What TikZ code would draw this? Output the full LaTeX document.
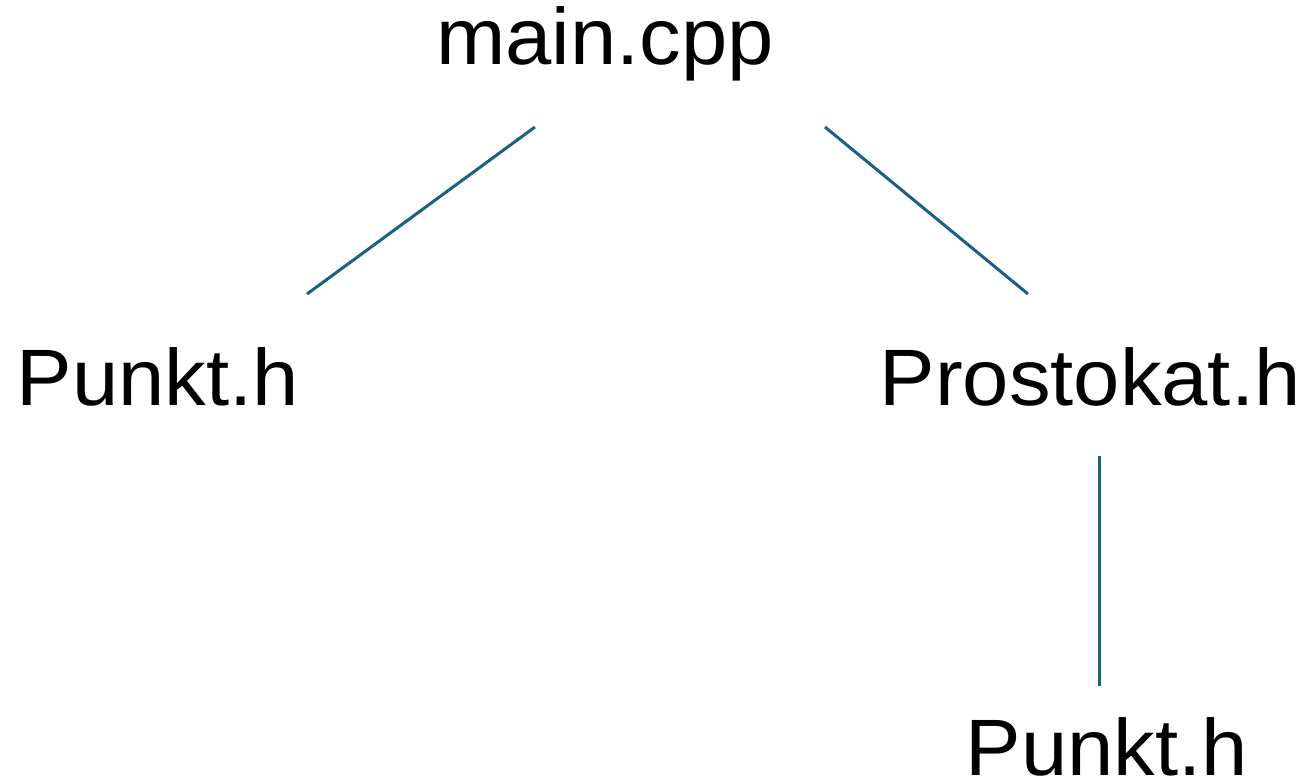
\documentclass[tikz,border=0pt]{standalone}
\usepackage{fontspec}
\setmainfont{Liberation Sans}
\definecolor{edgeblue}{HTML}{1A6182}
\begin{document}
\begin{tikzpicture}[x=1pt,y=-1pt,
  lbl/.style={font=\fontsize{80}{90}\selectfont, anchor=base, inner sep=0pt, xscale=1.04},
  edge/.style={draw=edgeblue, line width=3pt}]
\useasboundingbox (0,0) rectangle (1304,781);
\node[lbl] (main) at (605,65) {main.cpp};
\node[lbl] (p1) at (158,405) {Punkt.h};
\node[lbl] (pr) at (1090,405) {Prostokat.h};
\node[lbl] (p2) at (1107,775) {Punkt.h};
\coordinate (a1) at (535,127);
\coordinate (a2) at (307,294);
\coordinate (b1) at (825,127);
\coordinate (b2) at (1028,294);
\coordinate (c1) at (1099,456);
\coordinate (c2) at (1099,686);
\draw[edge] (a1) -- (a2);
\draw[edge] (b1) -- (b2);
\draw[edge] (c1) -- (c2);
\end{tikzpicture}
\end{document}
